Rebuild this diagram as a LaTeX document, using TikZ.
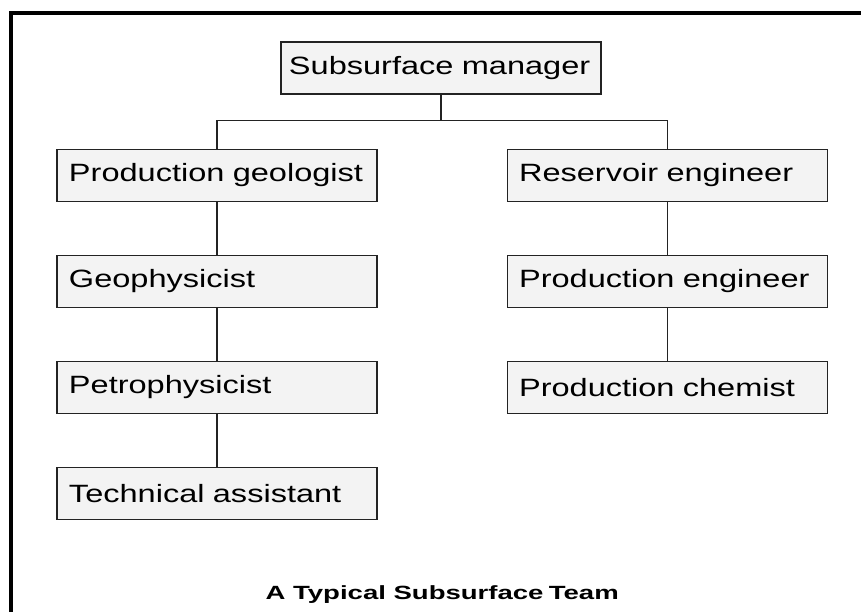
\documentclass[tikz,border=0pt]{standalone}
\usepackage{fontspec}
\usepackage{tikz}
\usetikzlibrary{positioning,calc}
\usepackage{xcolor}
\definecolor{boxgray}{RGB}{243,243,243}
\definecolor{linegray}{RGB}{35,35,35}
\newfontfamily\boxfont{Liberation Sans}[FakeStretch=1.3]
\newfontfamily\titlefont{Liberation Sans}[FakeStretch=1.44]

\begin{document}
\begin{tikzpicture}[
    node distance=1.325cm and 3.225cm,
    every node/.style={font=\boxfont\fontsize{17.8pt}{20pt}\selectfont},
    roleBox/.style={rectangle, draw=linegray, fill=boxgray, line width=0.75pt, minimum height=1.3cm, text width=7.4cm, inner xsep=0.3cm, align=left},
    headBox/.style={roleBox, text width=7.6cm, inner xsep=0.2cm},
    orgEdge/.style={draw=linegray, line width=0.75pt},
    titleText/.style={font=\titlefont\bfseries\fontsize{13.6pt}{15pt}\selectfont}
]
    \useasboundingbox (-11.025,1.7) rectangle (10.5,-13.6);
    % frame
    \draw [line width=0.1cm] (-10.75,-13.6) -- (-10.75,1.375) -- (10.5,1.375);

    \node [headBox] (manager) at (0,0) {Subsurface manager};
    \node [roleBox, below=1.35cm of manager, xshift=-5.6cm] (geologist) {Production geologist};
    \node [roleBox, right=of geologist] (reservoir) {Reservoir engineer};
    \node [roleBox, below=of geologist] (geophys) {Geophysicist};
    \node [roleBox, below=of geophys] (petrophys) {Petrophysicist};
    \node [roleBox, below=of petrophys] (assistant) {Technical assistant};
    \node [roleBox, below=of reservoir] (prodeng) {Production engineer};
    \node [roleBox, below=of prodeng] (chemist) {Production chemist};
    \coordinate [below=0.65cm of manager] (split);

    \path [orgEdge] (manager.south) -- (split) -| (geologist.north);
    \path [orgEdge] (split) -| (reservoir.north);
    \path [orgEdge] (geologist) -- (geophys);
    \path [orgEdge] (geophys) -- (petrophys);
    \path [orgEdge] (petrophys) -- (assistant);
    \path [orgEdge] (reservoir) -- (prodeng);
    \path [orgEdge] (prodeng) -- (chemist);

    \node [titleText, anchor=base, xshift=0.03cm] (title) at (0,-13.28) {A Typical Subsurface\hspace{-0.12em} Team};
\end{tikzpicture}
\end{document}
